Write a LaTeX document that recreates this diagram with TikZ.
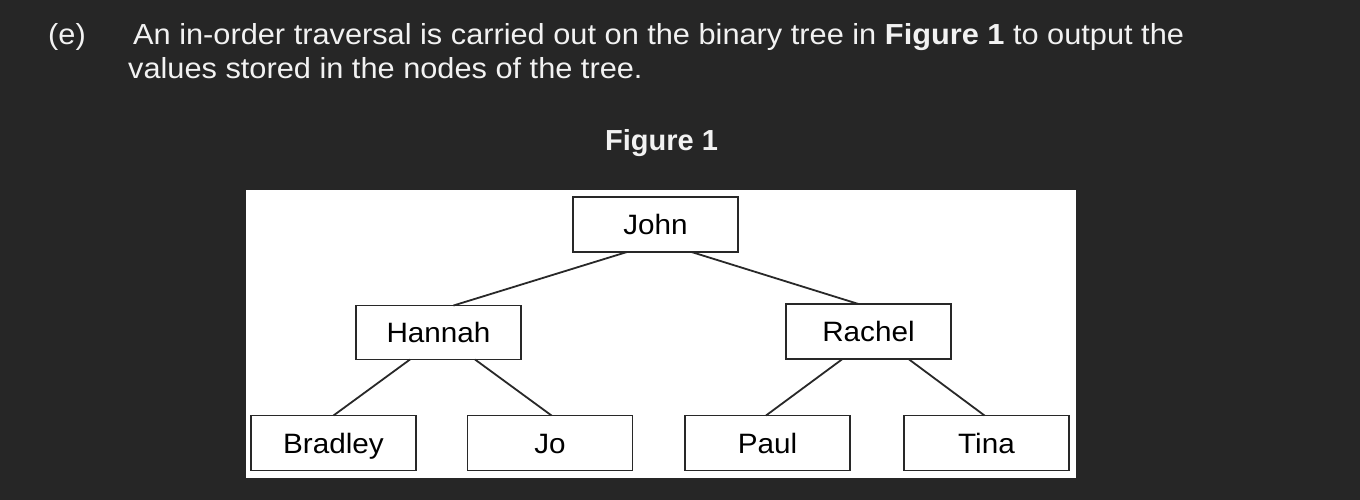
\documentclass[tikz,border=0pt]{standalone}
\usepackage{fontspec}
\setmainfont{Liberation Sans}
\newfontfamily\wideface[FakeStretch=1.06]{Liberation Sans}
\usetikzlibrary{calc}
\definecolor{bg}{RGB}{38,38,38}
\definecolor{fg}{RGB}{242,242,242}
\definecolor{ink}{RGB}{40,40,40}
\tikzset{
  headtext/.style={text=fg, font=\wideface\fontsize{29}{34}\selectfont, inner sep=0pt, anchor=base west},
  treebox/.style={draw=ink, line width=1.6pt, fill=white, minimum width=165pt, minimum height=55pt,
    inner sep=0pt, outer sep=0pt, text=black, font=\wideface\fontsize{28}{30}\selectfont,
    text height=20pt, text depth=0pt},
  branch/.style={draw=ink, line width=1.8pt}
}
\begin{document}
\begin{tikzpicture}[x=1pt,y=-1pt]
\useasboundingbox (0,0) rectangle (1360,500);
\fill[bg] (0,0) rectangle (1360,500);
% heading
\node[headtext] (lbl) at (48,44.5) {(e)};
\node[headtext] (l1) at (133,44.5) {An in-order traversal is carried out on the binary tree in \textbf{Figure 1} to output the};
\node[headtext] (l2) at (128,78.5) {values stored in the nodes of the tree.};
\node[text=fg, font=\fontsize{29}{32}\bfseries, inner sep=0pt, anchor=base] (fig) at (661.5,150) {Figure 1};
% panel
\fill[white] (246,190) rectangle (1076,478);
% nodes
\node[treebox, minimum height=55pt] (John) at (655.5,224.5) {John};
\node[treebox, minimum height=54pt] (Hannah) at (438.5,332.5) {Hannah};
\node[treebox, minimum height=55pt] (Rachel) at (868.5,331.5) {Rachel};
\node[treebox] (Bradley) at (333.5,443) {Bradley};
\node[treebox] (Jo) at (550,443) {Jo};
\node[treebox] (Paul) at (767.5,443) {Paul};
\node[treebox] (Tina) at (986.5,443) {Tina};
% branches
\draw[branch] ($(John.south)+(-28.5,0)$) -- ($(Hannah.north)+(15,0)$);
\draw[branch] ($(John.south)+(36,0)$) -- ($(Rachel.north)+(-10,0)$);
\draw[branch] ($(Hannah.south)+(-28.5,0)$) -- ($(Bradley.north)+(0,0)$);
\draw[branch] ($(Hannah.south)+(36.5,0)$) -- ($(Jo.north)+(1.5,0)$);
\draw[branch] ($(Rachel.south)+(-26,0)$) -- ($(Paul.north)+(-1.5,0)$);
\draw[branch] ($(Rachel.south)+(40,0)$) -- ($(Tina.north)+(-2,0)$);
\end{tikzpicture}
\end{document}
